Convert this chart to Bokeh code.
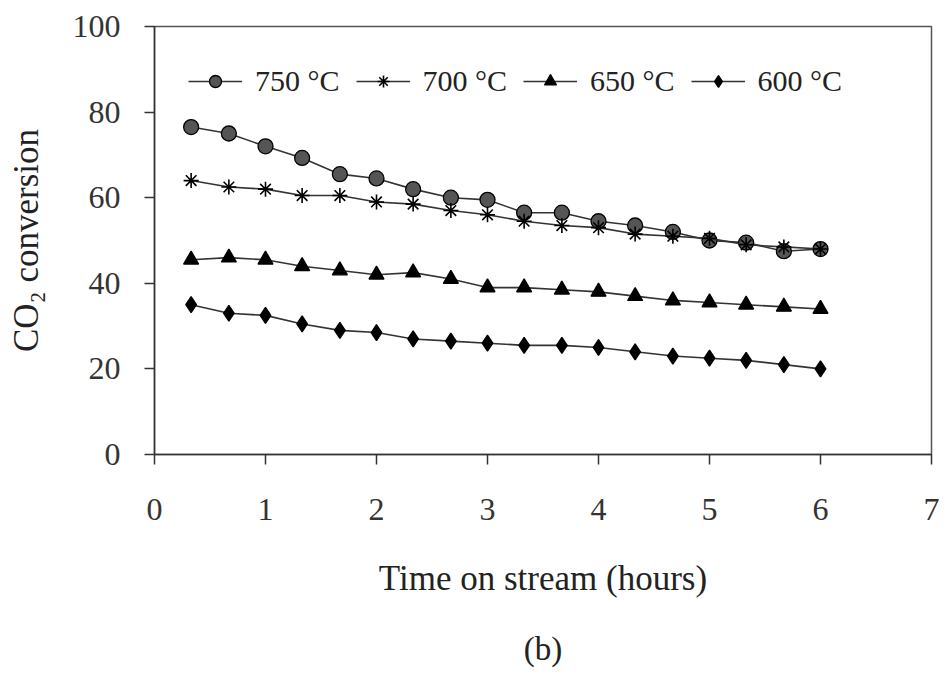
from bokeh.plotting import figure
from bokeh.models import Range1d, FixedTicker, Title, Legend, LegendItem
from bokeh.embed import file_html
from bokeh.resources import INLINE

time_h = [0.33, 0.67, 1.0, 1.33, 1.67, 2.0, 2.33, 2.67, 3.0, 3.33, 3.67, 4.0, 4.33, 4.67, 5.0, 5.33, 5.67, 6.0]
conv_750 = [76.5, 75, 72, 69.3, 65.5, 64.5, 62, 60, 59.5, 56.5, 56.5, 54.5, 53.5, 52, 50, 49.5, 47.5, 48]
conv_700 = [64, 62.5, 62, 60.5, 60.5, 59, 58.5, 57, 56, 54.5, 53.5, 53, 51.5, 51, 50.5, 49, 48.5, 48]
conv_650 = [45.5, 46, 45.5, 44, 43, 42, 42.5, 41, 39, 39, 38.5, 38, 37, 36, 35.5, 35, 34.5, 34]
conv_600 = [35, 33, 32.5, 30.5, 29, 28.5, 27, 26.5, 26, 25.5, 25.5, 25, 24, 23, 22.5, 22, 21, 20]
labels = ["750 °C", "700 °C", "650 °C", "600 °C"]
x_ticks = [0, 1, 2, 3, 4, 5, 6, 7]
y_ticks = [0, 20, 40, 60, 80, 100]

FONT = "Liberation Serif"

p = figure(frame_width=777, frame_height=428, output_backend="svg", toolbar_location=None,
           x_range=Range1d(0, 7), y_range=Range1d(0, 100),
           min_border_left=154, min_border_right=8, min_border_top=26, min_border_bottom=225)
p.outline_line_color = "#555555"
p.outline_line_width = 1.5
p.grid.grid_line_color = None
p.background_fill_color = "white"
p.border_fill_color = "white"

for ax in (p.xaxis[0], p.yaxis[0]):
    ax.axis_line_color = "#333333"
    ax.axis_line_width = 1.5
    ax.major_tick_line_color = "#333333"
    ax.major_tick_line_width = 1.5
    ax.major_tick_out = 10
    ax.major_tick_in = 0
    ax.minor_tick_line_color = None
    ax.major_label_text_font = FONT
    ax.major_label_text_font_size = "32px"
    ax.major_label_text_color = "#333333"
    ax.axis_label_text_font = FONT
    ax.axis_label_text_font_size = "35px"
    ax.axis_label_text_font_style = "normal"
    ax.axis_label_text_color = "#222222"

p.xaxis.ticker = FixedTicker(ticks=x_ticks)
p.yaxis.ticker = FixedTicker(ticks=y_ticks)
p.xaxis.major_label_standoff = 34
p.yaxis.major_label_standoff = 24
p.xaxis.axis_label = "Time on stream (hours)"
p.xaxis.axis_label_standoff = 36
p.yaxis.axis_label = "CO₂ conversion"
p.yaxis.axis_label_standoff = 24

series = [conv_750, conv_700, conv_650, conv_600]
markers = ["circle", "asterisk", "triangle", "diamond"]
fills = ["#555555", "black", "black", "black"]
sizes = [15, 15, 15, 16]

items = []
for ys, mk, fc, sz, lab in zip(series, markers, fills, sizes, labels):
    ln = p.line(time_h, ys, line_color="#333333", line_width=1.6)
    sc = p.scatter(time_h, ys, marker=mk, size=sz, fill_color=fc,
                   line_color="black", line_width=1.3 if mk != "asterisk" else 1.6)
    items.append(LegendItem(label=lab, renderers=[ln, sc]))

legend = Legend(items=items, orientation="horizontal", location=(34, 356))
legend.label_text_font = FONT
legend.label_text_font_size = "30px"
legend.label_text_color = "#222222"
legend.border_line_color = None
legend.background_fill_alpha = 0
legend.glyph_width = 54
legend.glyph_height = 30
legend.label_standoff = 13
legend.spacing = 16
legend.padding = 0
legend.margin = 0
legend.label_height = 30
p.add_layout(legend, "center")

cap = Title(text="(b)", align="center", text_font=FONT, text_font_size="33px",
            text_font_style="normal", text_color="#222222", standoff=57)
p.add_layout(cap, "below")

open("out.html", "w").write(file_html(p, INLINE))
